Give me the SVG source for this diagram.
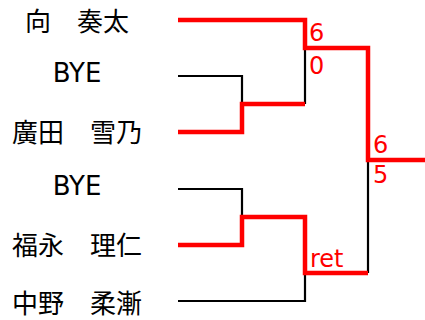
<svg xmlns="http://www.w3.org/2000/svg" width="425" height="320" viewBox="0 0 425 320">
<style>
.name{font-family:"DejaVu Sans","Noto Sans CJK JP",sans-serif;font-size:26px;fill:#000;text-anchor:middle}
.score{font-family:"DejaVu Sans","Noto Sans CJK JP",sans-serif;font-size:24px;fill:#ff0000}
.lose{fill:none;stroke:#000;stroke-width:2.2}
.win{fill:none;stroke:#ff0000;stroke-width:4.5;stroke-linejoin:miter}
</style>
<rect width="425" height="320" fill="#fff"/>
<g id="connectors">
<path class="lose" d="M178,76 H242 V104"/>
<path class="lose" d="M178,189 H242 V217"/>
<path class="lose" d="M305,48 V104"/>
<path class="lose" d="M178,301 H305 V273"/>
<path class="lose" d="M368,160 V273"/>
<path class="win" d="M178,20 H305 V48 H368 V160 H425"/>
<path class="win" d="M178,132 H242 V104 H305"/>
<path class="win" d="M178,245 H242 V217 H305 V273 H368"/>
</g>
<g id="p1"><text class="name" x="77" y="31">向　奏太</text></g>
<g id="p2"><text class="name" x="77" y="82">BYE</text></g>
<g id="p3"><text class="name" x="77" y="142">廣田　雪乃</text></g>
<g id="p4"><text class="name" x="77" y="195">BYE</text></g>
<g id="p5"><text class="name" x="77" y="255">福永　理仁</text></g>
<g id="p6"><text class="name" x="77" y="313">中野　柔漸</text></g>
<g id="scores">
<text class="score" x="309" y="41">6</text>
<text class="score" x="309" y="74">0</text>
<text class="score" x="373" y="153">6</text>
<text class="score" x="373" y="183">5</text>
<text class="score" x="310" y="267">ret</text>
</g>
</svg>
